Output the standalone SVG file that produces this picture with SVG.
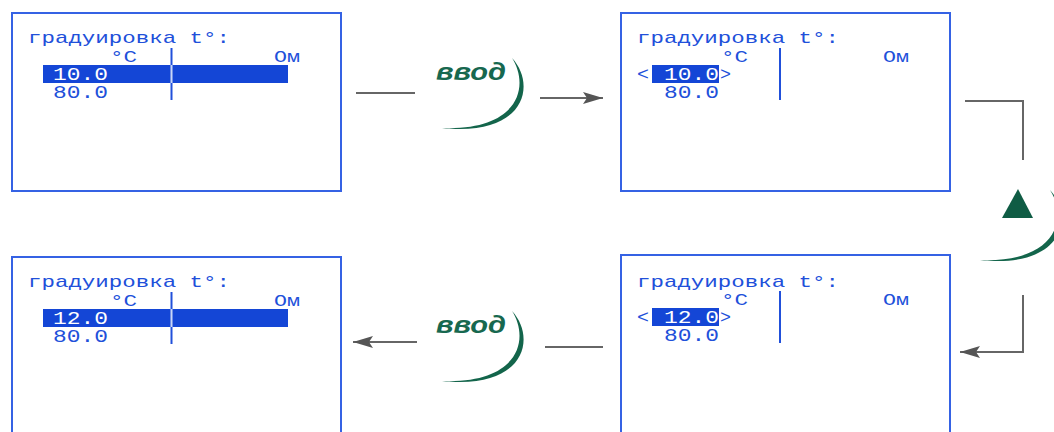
<svg xmlns="http://www.w3.org/2000/svg" width="1054" height="432" viewBox="0 0 1054 432">
<style>
.box{fill:#fff;stroke:#3562e4;stroke-width:2}
.t{font-family:"Liberation Mono","DejaVu Sans Mono",monospace;fill:#2150da}
.ttl{font-size:17px}
.hd{font-size:16px}
.val{font-size:18px}
.w{fill:#fff}
.bar{fill:#1446d6}
.div{stroke:#2150da;stroke-width:2}
.ln{fill:none;stroke:#666;stroke-width:2}
.btn{font-family:"Liberation Sans",Arial,sans-serif;font-weight:bold;font-style:italic;font-size:23px;fill:#17684f}
.arc{fill:#13654b}
</style>
<defs>
<marker id="ah" markerUnits="userSpaceOnUse" markerWidth="22" markerHeight="14" refX="20" refY="7" orient="auto">
<path d="M0,1 L20,7 L0,13 L4,7 Z" fill="#555"/>
</marker>
<path id="cres" d="M512,58 C537,85 525,137 442,128 C519,131 530,86 512,58 Z"/>
</defs>

<g id="node-tl" transform="translate(11,12)">
<rect class="box" x="1" y="1" width="329" height="178"/>
<text class="t ttl" x="17" y="31" textLength="202" lengthAdjust="spacingAndGlyphs">градуировка t°:</text>
<text class="t hd" x="99" y="50" textLength="27" lengthAdjust="spacingAndGlyphs">°C</text>
<text class="t hd" x="263" y="50" textLength="26" lengthAdjust="spacingAndGlyphs">Ом</text>
<rect class="bar" x="32" y="53" width="245" height="18"/>
<line class="div" x1="160.5" y1="36" x2="160.5" y2="88"/>
<line x1="160.5" y1="53" x2="160.5" y2="71" stroke="#c9d6f7" stroke-width="2"/>
<text class="t val w" x="42" y="68" textLength="55" lengthAdjust="spacingAndGlyphs">10.0</text>
<text class="t val" x="42" y="86" textLength="55" lengthAdjust="spacingAndGlyphs">80.0</text>
</g>

<g id="node-tr" transform="translate(620,12)">
<rect class="box" x="1" y="1" width="329" height="178"/>
<text class="t ttl" x="17" y="31" textLength="202" lengthAdjust="spacingAndGlyphs">градуировка t°:</text>
<text class="t hd" x="101" y="50" textLength="27" lengthAdjust="spacingAndGlyphs">°C</text>
<text class="t hd" x="263" y="50" textLength="26" lengthAdjust="spacingAndGlyphs">Ом</text>
<line class="div" x1="160" y1="36" x2="160" y2="88"/>
<text class="t val" x="17" y="68" textLength="12" lengthAdjust="spacingAndGlyphs">&lt;</text>
<rect class="bar" x="32" y="53" width="67" height="18"/>
<text class="t val w" x="44" y="68" textLength="55" lengthAdjust="spacingAndGlyphs">10.0</text>
<text class="t val" x="100" y="68" textLength="11" lengthAdjust="spacingAndGlyphs">&gt;</text>
<text class="t val" x="44" y="86" textLength="55" lengthAdjust="spacingAndGlyphs">80.0</text>
</g>

<g id="node-br" transform="translate(620,254)">
<rect class="box" x="1" y="1" width="329" height="178"/>
<text class="t ttl" x="17" y="33" textLength="202" lengthAdjust="spacingAndGlyphs">градуировка t°:</text>
<text class="t hd" x="101" y="51" textLength="27" lengthAdjust="spacingAndGlyphs">°C</text>
<text class="t hd" x="263" y="51" textLength="26" lengthAdjust="spacingAndGlyphs">Ом</text>
<line class="div" x1="160" y1="37" x2="160" y2="89"/>
<text class="t val" x="17" y="69" textLength="12" lengthAdjust="spacingAndGlyphs">&lt;</text>
<rect class="bar" x="32" y="54" width="67" height="18"/>
<text class="t val w" x="44" y="69" textLength="55" lengthAdjust="spacingAndGlyphs">12.0</text>
<text class="t val" x="100" y="69" textLength="11" lengthAdjust="spacingAndGlyphs">&gt;</text>
<text class="t val" x="44" y="87" textLength="55" lengthAdjust="spacingAndGlyphs">80.0</text>
</g>

<g id="node-bl" transform="translate(11,256)">
<rect class="box" x="1" y="1" width="329" height="178"/>
<text class="t ttl" x="17" y="31" textLength="202" lengthAdjust="spacingAndGlyphs">градуировка t°:</text>
<text class="t hd" x="99" y="50" textLength="27" lengthAdjust="spacingAndGlyphs">°C</text>
<text class="t hd" x="263" y="50" textLength="26" lengthAdjust="spacingAndGlyphs">Ом</text>
<rect class="bar" x="32" y="53" width="245" height="18"/>
<line class="div" x1="160.5" y1="36" x2="160.5" y2="88"/>
<line x1="160.5" y1="53" x2="160.5" y2="71" stroke="#c9d6f7" stroke-width="2"/>
<text class="t val w" x="42" y="68" textLength="55" lengthAdjust="spacingAndGlyphs">12.0</text>
<text class="t val" x="42" y="86" textLength="55" lengthAdjust="spacingAndGlyphs">80.0</text>
</g>

<g id="connectors">
<line class="ln" x1="356" y1="93" x2="415" y2="93"/>
<line class="ln" x1="540" y1="98" x2="603" y2="98" marker-end="url(#ah)"/>
<polyline class="ln" points="965,101 1023,101 1023,160"/>
<polyline class="ln" points="1023,295 1023,352 960,352" marker-end="url(#ah)"/>
<line class="ln" x1="603" y1="347" x2="545" y2="347"/>
<line class="ln" x1="417" y1="342" x2="353" y2="342" marker-end="url(#ah)"/>
</g>

<g id="btn-enter-top">
<text class="btn" x="436" y="80" textLength="70" lengthAdjust="spacingAndGlyphs">ввод</text>
<use href="#cres" class="arc"/>
</g>
<g id="btn-enter-bottom" transform="translate(0,253)">
<text class="btn" x="436" y="80" textLength="70" lengthAdjust="spacingAndGlyphs">ввод</text>
<use href="#cres" class="arc"/>
</g>
<g id="btn-up">
<use href="#cres" class="arc" transform="translate(538,132)"/>
<polygon points="1002,218 1033,218 1018,189" fill="#0f5c44"/>
</g>
</svg>
